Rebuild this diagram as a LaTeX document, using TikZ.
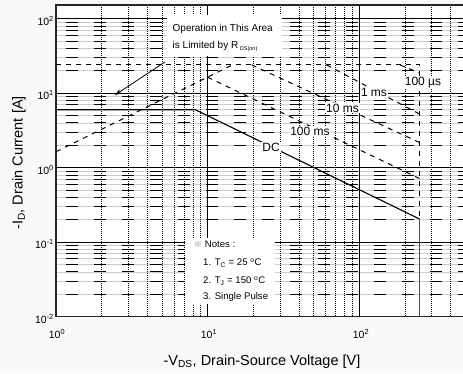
\documentclass[tikz,border=0pt]{standalone}
\usepackage{fontspec}
\usetikzlibrary{arrows.meta}
\setmainfont{Liberation Sans}
\newfontfamily\cjkfont{Noto Sans CJK SC}
\tikzset{
  minorhbase/.style={draw=gray!40, line width=0.7pt},
  minorh/.style={draw=black, line width=0.8pt, dash pattern=on 12pt off 16pt},
  minorv/.style={draw=black, line width=0.6pt, dash pattern=on 0.8pt off 1.2pt},
  majorgrid/.style={draw=black, line width=0.9pt},
  frameline/.style={draw=black!85, line width=1.4pt},
  soa/.style={draw=black, line width=1pt, dash pattern=on 5pt off 5pt},
  dcline/.style={draw=black, line width=1.1pt},
  clabel/.style={fill=white, inner sep=1pt, font=\fontsize{12}{12}\selectfont},
  ticklab/.style={inner sep=0pt, font=\fontsize{10.5}{11}\selectfont},
  axlab/.style={inner sep=0pt, font=\fontsize{14.5}{15}\selectfont},
  whitebox/.style={fill=white, draw=none, inner sep=0pt, anchor=north west},
  notetext/.style={inner sep=0pt, anchor=west, font=\fontsize{9.6}{10}\selectfont},
  anntext/.style={inner sep=0pt, anchor=west, font=\fontsize{10}{11}\selectfont},
  pointer/.style={-{Stealth[length=7pt,width=5pt]}, line width=0.8pt},
}
\begin{document}
\begin{tikzpicture}[x=1pt,y=-1pt]
\useasboundingbox (0,0) rectangle (463,373);
\fill[gray!5] (0,0) rectangle (463,373);
\fill[white] (56,5) rectangle (463,316.7);
% grid
\begin{scope}
\clip (56,5) rectangle (463,316.7);
\foreach \e in {-2,...,1}{
  \foreach \m in {2,...,9}{
    \draw[minorhbase] (56,{167.7-74.5*(\e+log10(\m))}) -- (463,{167.7-74.5*(\e+log10(\m))});
    \draw[minorh] (66,{167.7-74.5*(\e+log10(\m))}) -- (463,{167.7-74.5*(\e+log10(\m))});
  }
}
\foreach \e in {0,1,2}{
  \foreach \m in {2,...,9}{
    \draw[minorv] ({56+151.6*(\e+log10(\m))},5) -- ({56+151.6*(\e+log10(\m))},316.7);
  }
}
\foreach \e in {-1,0,1,2}{
  \draw[majorgrid] (56,{167.7-74.5*\e}) -- (463,{167.7-74.5*\e});
}
\foreach \e in {1,2}{
  \draw[majorgrid] ({56+151.6*\e},5) -- ({56+151.6*\e},316.7);
}
\end{scope}
% frame
\draw[frameline] (463,5) -- (56,5) -- (56,316.7) -- (463,316.7);
% white boxes
\node[whitebox, minimum width=115pt, minimum height=41pt] (ann) at (167,15) {};
\node[whitebox, minimum width=90pt, minimum height=66pt] (notes) at (185,238) {};
% SOA coordinates
\coordinate (rds0) at (56,151.7);
\coordinate (rdsTop) at (232.5,64.9);
\coordinate (lim0) at (56,64.9);
\coordinate (lim1) at (419.5,64.9);
\coordinate (dc0) at (56,109.7);
\coordinate (dcKnee) at (195.3,109.7);
\coordinate (dcEnd) at (419.5,219);
\coordinate (bot) at (419.5,316.7);
\coordinate (us0) at (400,64.9);
\coordinate (us1) at (419.5,73);
\coordinate (msAa) at (326.6,64.9);
\coordinate (msAb) at (419.5,114);
\coordinate (msBa) at (251.7,64.9);
\coordinate (msBb) at (419.5,142.5);
\coordinate (msCa) at (207.6,77.2);
\coordinate (msCb) at (419.5,178.5);
% curves
\draw[soa] (rds0) -- (rdsTop);
\draw[soa] (lim0) -- (lim1) -- (dcEnd);
\draw[soa] (us0) -- (us1);
\draw[soa] (msAa) -- (msAb);
\draw[soa] (msBa) -- (msBb);
\draw[soa] (msCa) -- (msCb);
\draw[dcline] (dc0) -- (dcKnee) -- (dcEnd);
\draw[draw=black!70, line width=1.4pt] (dcEnd) -- (bot);
% curve labels
\node[clabel] (l1ms) at (374,92) {1 ms};
\node[clabel] (l10ms) at (342.5,108) {10 ms};
\node[clabel] (l100ms) at (310,131) {100 ms};
\node[clabel] (l100us) at (423,82.5) {100 µs};
\node[clabel] (ldc) at (271,147.5) {DC};
% annotation
\node[anntext] (annA) at (172.5,29) {Operation in This Area};
\node[anntext] (annB) at (172.5,46) {is Limited by R\,\raisebox{-2pt}{\fontsize{5.5}{6}\selectfont DS(on)}};
\coordinate (arrS) at (165,62);
\coordinate (arrT) at (115,95);
\draw[pointer] (arrS) -- (arrT);
% notes
\node[notetext] (n0) at (194,244) {{\cjkfont\fontsize{8}{9}\selectfont\color{gray}※}\ Notes :};
\node[notetext] (n1) at (203,263) {1. T\textsubscript{C} = 25 \textsuperscript{o}C};
\node[notetext] (n2) at (203,281) {2. T\textsubscript{J} = 150 \textsuperscript{o}C};
\node[notetext] (n3) at (203,297) {3. Single Pulse};
% tick labels
\node[ticklab, anchor=east] (y2) at (54,21) {10\textsuperscript{2}};
\node[ticklab, anchor=east] (y1) at (54,95.5) {10\textsuperscript{1}};
\node[ticklab, anchor=east] (y0) at (54,170) {10\textsuperscript{0}};
\node[ticklab, anchor=east] (ym1) at (54,244.5) {10\textsuperscript{-1}};
\node[ticklab, anchor=east] (ym2) at (54,319) {10\textsuperscript{-2}};
\node[ticklab] (x0) at (57,334) {10\textsuperscript{0}};
\node[ticklab] (x1) at (209,334) {10\textsuperscript{1}};
\node[ticklab] (x2) at (361,334) {10\textsuperscript{2}};
% axis labels
\node[axlab, rotate=90] (ylab) at (19,163) {-I\textsubscript{D}, Drain Current [A]};
\node[axlab] (xlab) at (262,362) {-V\textsubscript{DS}, Drain-Source Voltage [V]};
\end{tikzpicture}
\end{document}
